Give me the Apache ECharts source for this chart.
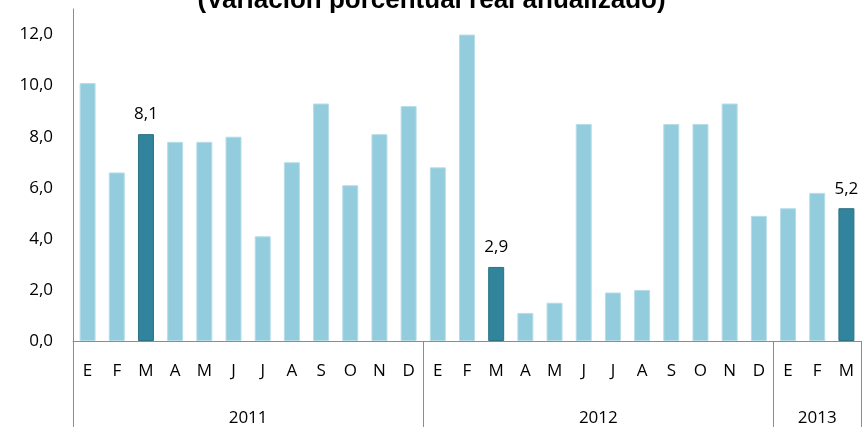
<!DOCTYPE html>
<html>
<head>
<meta charset="utf-8">
<script src="https://cdn.jsdelivr.net/npm/echarts@6/dist/echarts.min.js"></script>
<style>
html,body{margin:0;padding:0;background:#fff;}
#chart{width:863px;height:427px;}
</style>
</head>
<body>
<div id="chart"></div>
<script>
var titleText = '(Variación porcentual real anualizado)';
var months = ['E','F','M','A','M','J','J','A','S','O','N','D',
              'E','F','M','A','M','J','J','A','S','O','N','D',
              'E','F','M'];
var values = [10.1, 6.6, 8.1, 7.8, 7.8, 8.0, 4.1, 7.0, 9.3, 6.1, 8.1, 9.2,
              6.8, 12.0, 2.9, 1.1, 1.5, 8.5, 1.9, 2.0, 8.5, 8.5, 9.3, 4.9,
              5.2, 5.8, 5.2];
var highlighted = [false, false, true, false, false, false, false, false, false, false, false, false,
                   false, false, true, false, false, false, false, false, false, false, false, false,
                   false, false, true];
var years = ['2011', '2012', '2013'];
var yearMonthCounts = [12, 12, 3];
var yTicks = [0, 2, 4, 6, 8, 10, 12];

var yearBounds = [0];
var yearCenters = [];
yearMonthCounts.forEach(function (c, i) {
  var start = yearBounds[i];
  yearCenters.push(start + c / 2);
  yearBounds.push(start + c);
});

var font = 'Open Sans';
var chart = echarts.init(document.getElementById('chart'), null, {renderer: 'canvas'});

var barData = values.map(function (v, i) {
  if (highlighted[i]) {
    return {
      value: v,
      itemStyle: {color: '#31849B', borderColor: '#2A7286', borderWidth: 1},
      label: {show: true}
    };
  }
  return {value: v};
});

chart.setOption({
  animation: false,
  title: {
    text: titleText,
    left: 'center',
    top: -17,
    textStyle: {fontFamily: 'Liberation Sans', fontWeight: 'bold', fontSize: 26, color: '#000'}
  },
  grid: {left: 73, right: 2, top: 9, bottom: 85, containLabel: false},
  xAxis: [{
    type: 'category',
    data: months,
    position: 'bottom',
    axisLine: {show: true, lineStyle: {color: '#8C8C8C', width: 1}},
    axisTick: {show: false},
    axisLabel: {fontFamily: font, fontSize: 17, color: '#000', margin: 22, interval: 0}
  }, {
    type: 'value',
    min: 0,
    max: yearBounds[yearBounds.length - 1],
    position: 'bottom',
    axisLine: {show: false},
    splitLine: {show: false},
    axisTick: {show: true, length: 86, customValues: yearBounds, lineStyle: {color: '#8C8C8C', width: 1}},
    axisLabel: {
      customValues: yearCenters,
      margin: 69,
      fontFamily: font, fontSize: 17, color: '#000',
      formatter: function (v) {
        var idx = yearCenters.indexOf(v);
        return idx >= 0 ? years[idx] : '';
      }
    }
  }],
  yAxis: {
    type: 'value',
    min: 0,
    max: 13,
    interval: 1,
    axisLine: {show: true, lineStyle: {color: '#8C8C8C', width: 1}},
    axisTick: {show: false},
    splitLine: {show: false},
    axisLabel: {
      fontFamily: font, fontSize: 17, color: '#000', margin: 20,
      formatter: function (v) {
        return yTicks.indexOf(v) >= 0 ? v.toFixed(1).replace('.', ',') : '';
      }
    }
  },
  series: [{
    type: 'bar',
    xAxisIndex: 0,
    data: barData,
    barWidth: 16,
    itemStyle: {color: '#93CDDD', borderColor: '#B7DEE8', borderWidth: 1},
    label: {
      show: false,
      position: 'top',
      distance: 11,
      fontFamily: font, fontSize: 17, color: '#000',
      formatter: function (p) { return p.value.toFixed(1).replace('.', ','); }
    }
  }]
});
</script>
</body>
</html>
